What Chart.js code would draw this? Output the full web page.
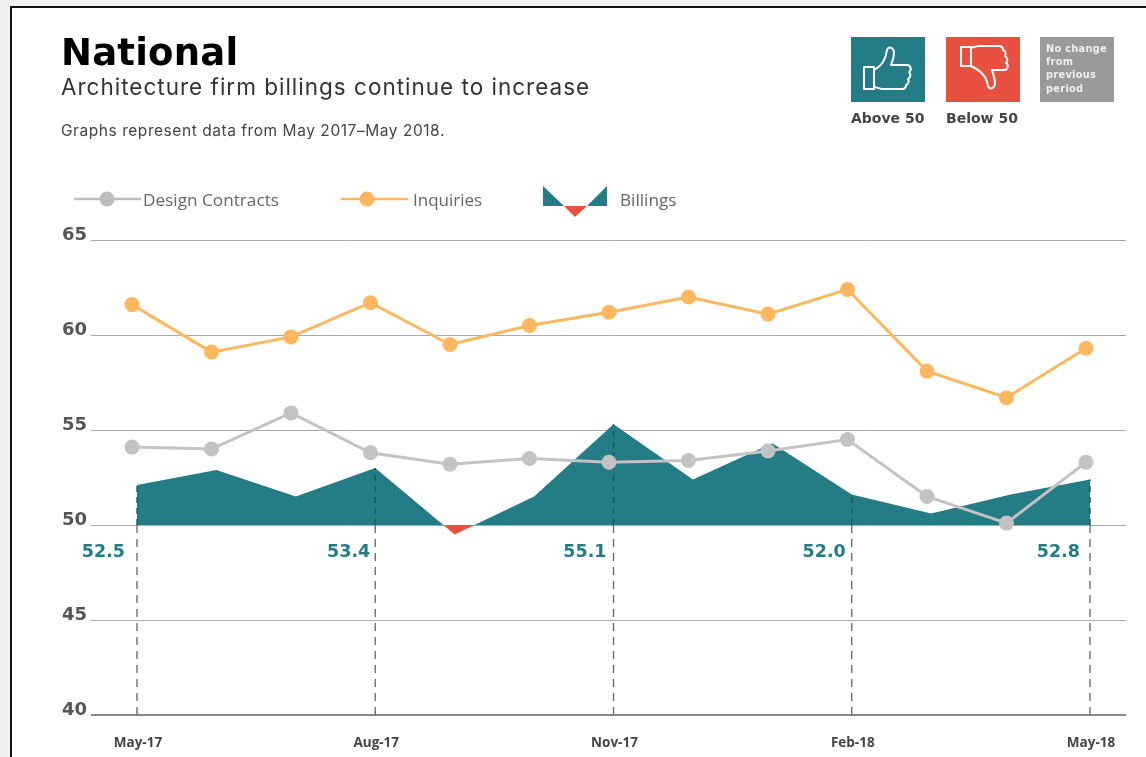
<!DOCTYPE html>
<html><head><meta charset="utf-8">
<style>
html,body{margin:0;padding:0;background:#fff;width:1146px;height:757px;overflow:hidden}
#wrap{position:absolute;left:0;top:0;width:1146px;height:757px;background:#efefef}
#frame{position:absolute;left:10px;top:6px;width:1140px;height:760px;background:#fff;border-left:2px solid #111;border-top:2px solid #111}
canvas{position:absolute;left:0;top:0}
.t{position:absolute;white-space:nowrap}
.box{position:absolute;top:37px;height:65px}
</style></head><body>
<div id="wrap"><div id="frame"></div></div>
<canvas id="c" width="1146" height="757"></canvas>
<div class="t" style="left:61px;top:29px;font:700 37px/48px 'DejaVu Sans';color:#000;letter-spacing:.2px">National</div>
<div class="t" style="left:61px;top:72px;font:400 22.5px/30px 'Inter';color:#333;letter-spacing:1px">Architecture firm billings continue to increase</div>
<div class="t" style="left:61px;top:121px;font:400 15.5px/20px 'Inter';color:#444;letter-spacing:.55px">Graphs represent data from May 2017–May 2018.</div>
<div class="box" style="left:851px;width:74px;background:#237c86">
<svg width="74" height="65" viewBox="0 0 74 65" fill="none" stroke="#fff" stroke-width="2" stroke-linejoin="round"><path d="M13 30h10v22H13zM23 33c8-4 12-12 13-20 1-4 7-3 7 3 0 5-2 9-3 12h16c4 0 5 5 2 7 2 2 2 5-1 7 1 2 1 5-2 6 0 3-1 4-4 4H32c-4 0-6-2-9-2"/></svg></div>
<div class="box" style="left:946px;width:74px;background:#e8503f">
<svg width="74" height="65" viewBox="0 0 74 65" fill="none" stroke="#fff" stroke-width="2" stroke-linejoin="round"><path d="M15 10h10v19H15zM25 11c3-1 5-2 9-2h19c3 0 4 1 4 4 3 1 3 4 2 6 3 2 3 5 1 7 3 2 2 7-2 7H46c1 4 3 8 3 13 0 6-6 7-7 3-1-8-6-15-17-20"/></svg></div>
<div class="box" style="left:1040px;width:74px;background:#9a9a9a"><div class="t" style="left:6px;top:5px;font:700 9.8px/13.2px 'DejaVu Sans';color:#eee;white-space:normal;width:68px;letter-spacing:.3px">No change<br>from<br>previous<br>period</div></div>
<div class="t" style="left:851px;top:109px;font:700 14px/18px 'DejaVu Sans';color:#444">Above 50</div>
<div class="t" style="left:946px;top:109px;font:700 14px/18px 'DejaVu Sans';color:#444">Below 50</div>
<svg style="position:absolute;left:0;top:0" width="700" height="225">
<line x1="74" x2="141" y1="199" y2="199" stroke="#bdbdbd" stroke-width="2.5"/><circle cx="107" cy="199" r="7.5" fill="#bdbdbd"/>
<line x1="341" x2="408" y1="199" y2="199" stroke="#fdb85f" stroke-width="2.5"/><circle cx="367" cy="199" r="7.5" fill="#fdb85f"/>
<path d="M543 186L564 206H543ZM607 186L587 206H607Z" fill="#237c86"/><path d="M564 206H587L575 217Z" fill="#e8503f"/>
</svg>
<div class="t" style="left:143px;top:189px;font:400 17.2px/22px 'Open Sans';color:#666">Design Contracts</div>
<div class="t" style="left:413px;top:189px;font:400 17px/22px 'Open Sans';color:#666">Inquiries</div>
<div class="t" style="left:620px;top:189px;font:400 17.2px/22px 'Open Sans';color:#666">Billings</div>
<script src="https://cdn.jsdelivr.net/npm/chart.js@4"></script>
<script>
const months=["May-17","Jun-17","Jul-17","Aug-17","Sep-17","Oct-17","Nov-17","Dec-17","Jan-18","Feb-18","Mar-18","Apr-18","May-18"];
const designContracts=[54.1,54.0,55.9,53.8,53.2,53.5,53.3,53.4,53.9,54.5,51.5,50.1,53.3];
const inquiries=[61.6,59.1,59.9,61.7,59.5,60.5,61.2,62.0,61.1,62.4,58.1,56.7,59.3];
const billings=[52.1,52.9,51.5,53.0,49.5,51.5,55.3,52.4,54.3,51.6,50.6,51.6,52.4];
const quarterIdx=[0,3,6,9,12];
const quarterLabels=["May-17","Aug-17","Nov-17","Feb-18","May-18"];
const quarterValues=["52.5","53.4","55.1","52.0","52.8"];
const yTicks=[40,45,50,55,60,65];
const xy=a=>a.map((y,x)=>({x,y}));
const dropBelow=[],dropAbove=[];
quarterIdx.forEach(i=>{dropBelow.push({x:i,y:40},{x:i,y:50},{x:i,y:null});dropAbove.push({x:i,y:50},{x:i,y:billings[i]},{x:i,y:null});});
const NUM="'DejaVu Sans'";
const labelGap=[12,5,7,6,10];
const valueLabels={id:'valueLabels',afterDatasetsDraw(ch){const c=ch.ctx,x=ch.scales.x,y=ch.scales.y;c.save();c.font="700 17.5px "+NUM;c.fillStyle='#237c86';c.textAlign='right';c.textBaseline='middle';
quarterIdx.forEach((i,k)=>c.fillText(quarterValues[k],x.getPixelForValue(i)-labelGap[k],y.getPixelForValue(48.56)));c.restore();}};
new Chart(document.getElementById('c'),{type:'line',plugins:[valueLabels],
data:{datasets:[
{label:'Design Contracts',data:xy(designContracts),xAxisID:'x2',borderColor:'#c4c2c2',backgroundColor:'#c4c2c2',borderWidth:3,pointRadius:7.5,pointBorderWidth:0,order:1},
{label:'Inquiries',data:xy(inquiries),xAxisID:'x2',borderColor:'#fdb85f',backgroundColor:'#fdb85f',borderWidth:3,pointRadius:7.5,pointBorderWidth:0,order:1},
{label:'Billings',data:xy(billings),xAxisID:'x',borderWidth:0,pointRadius:0,fill:{target:{value:50},above:'#237c86',below:'#e8503f'},order:3},
{label:'dropAbove',data:dropAbove,xAxisID:'x',borderColor:'#17555c',borderWidth:1.3,borderDash:[6,5],pointRadius:0,spanGaps:false,order:2},
{label:'dropBelow',data:dropBelow,xAxisID:'x',borderColor:'#666',borderWidth:1.3,borderDash:[8,6],pointRadius:0,spanGaps:false,order:2}
]},
options:{responsive:false,animation:false,events:[],
layout:{padding:{top:240,right:20,left:0,bottom:0}},
plugins:{legend:{display:false},tooltip:{enabled:false},title:{display:false}},
scales:{
x:{type:'linear',min:-0.579,max:12.453,position:'bottom',border:{display:false},grid:{display:false},
 afterBuildTicks(s){s.ticks=quarterIdx.map(v=>({value:v}));},
 afterFit(s){s.height=42;},
 ticks:{autoSkip:false,maxRotation:0,padding:12,labelOffset:1,color:'#444',font:{family:"'Open Sans'",size:13.5,weight:'700'},callback:(v)=>quarterLabels[quarterIdx.indexOf(v)]||''}},
x2:{type:'linear',min:-0.516,max:12.503,display:false},
y:{min:40,max:65,border:{display:false},
 afterFit(s){s.width=91;},
 afterBuildTicks(s){s.ticks=yTicks.map(v=>({value:v}));},
 grid:{drawTicks:false,color:c=>c.tick.value===40?'#888':'#aaa',lineWidth:c=>c.tick.value===40?2:1},
 ticks:{color:'#555',padding:4,labelOffset:-5,font:{family:NUM,size:18,weight:'700'}}}
}}});
</script>
</body></html>
